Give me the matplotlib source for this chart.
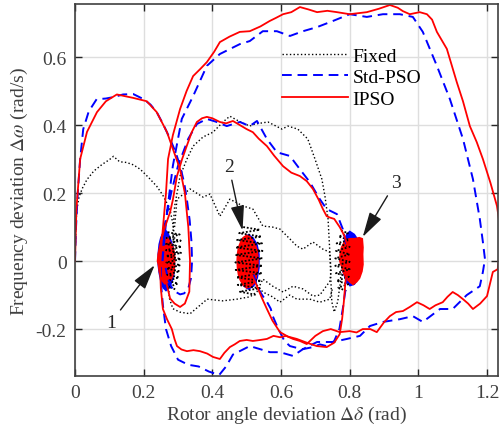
import matplotlib
matplotlib.use('Agg')
import matplotlib.pyplot as plt
import numpy as np

plt.rcParams['font.family'] = ['Liberation Serif', 'DejaVu Serif']
plt.rcParams['mathtext.fontset'] = 'stix'

# ---- trajectories: (delta, omega) pairs ----
# Fixed
fix_g1 = [(0, 0), (0.002, 0.08), (0.005, 0.15), (0.012, 0.19), (0.022, 0.215), (0.035, 0.24),
          (0.055, 0.265), (0.08, 0.285), (0.1, 0.298), (0.112, 0.308), (0.13, 0.292), (0.15, 0.29),
          (0.17, 0.283), (0.19, 0.27), (0.215, 0.245), (0.238, 0.22), (0.255, 0.195), (0.268, 0.17),
          (0.278, 0.145), (0.285, 0.11), (0.29, 0.07), (0.292, 0.02)]
fix_g2 = [(0.29, -0.03), (0.285, 0.08), (0.29, 0.16), (0.306, 0.25), (0.326, 0.3), (0.344, 0.338),
          (0.373, 0.365), (0.402, 0.379), (0.431, 0.409), (0.451, 0.426), (0.48, 0.41), (0.509, 0.397),
          (0.524, 0.403), (0.562, 0.409), (0.603, 0.388), (0.62, 0.397), (0.649, 0.388), (0.678, 0.359),
          (0.699, 0.3), (0.719, 0.241), (0.728, 0.191), (0.737, 0.124), (0.742, 0.03), (0.745, -0.05),
          (0.748, -0.12), (0.755, -0.15), (0.765, -0.12), (0.772, -0.07), (0.776, -0.02)]
fix_g3 = [(0.29, 0.1), (0.297, 0.182), (0.335, 0.212), (0.373, 0.188), (0.393, 0.197), (0.422, 0.132),
          (0.451, 0.182), (0.489, 0.162), (0.518, 0.153), (0.547, 0.103), (0.575, 0.1), (0.597, 0.094),
          (0.626, 0.065), (0.646, 0.044), (0.664, 0.035), (0.693, 0.056), (0.722, 0.035), (0.742, 0.026),
          (0.746, -0.03), (0.742, -0.06), (0.713, -0.1), (0.693, -0.103), (0.664, -0.082), (0.635, -0.074),
          (0.606, -0.091), (0.576, -0.074), (0.547, -0.053), (0.53, -0.09), (0.51, -0.105), (0.472, -0.112),
          (0.43, -0.117), (0.385, -0.112), (0.335, -0.155), (0.305, -0.15), (0.285, -0.14), (0.275, -0.11),
          (0.272, -0.07)]
fix_g4 = [(0.53, -0.07), (0.547, -0.091), (0.575, -0.105), (0.597, -0.121), (0.625, -0.1), (0.646, -0.112),
          (0.684, -0.112), (0.713, -0.121), (0.742, -0.112), (0.75, -0.08)]
fix_c1 = [(0.27, 0.085), (0.305, 0.078), (0.266, 0.068), (0.308, 0.06), (0.265, 0.05), (0.31, 0.042),
          (0.265, 0.032), (0.309, 0.024), (0.265, 0.015), (0.308, 0.006), (0.266, -0.004), (0.307, -0.012),
          (0.267, -0.022), (0.305, -0.03), (0.268, -0.04), (0.303, -0.048), (0.27, -0.058), (0.3, -0.066),
          (0.273, -0.076), (0.295, -0.084)]
fix_c2 = [(0.49, 0.1), (0.538, 0.092), (0.478, 0.082), (0.543, 0.072), (0.472, 0.062), (0.545, 0.052),
          (0.468, 0.04), (0.546, 0.03), (0.467, 0.018), (0.546, 0.008), (0.467, -0.004), (0.546, -0.014),
          (0.468, -0.026), (0.545, -0.036), (0.47, -0.048), (0.542, -0.058), (0.474, -0.07), (0.538, -0.08),
          (0.48, -0.09), (0.53, -0.1)]
fix_c3 = [(0.775, 0.09), (0.795, 0.082), (0.768, 0.072), (0.798, 0.062), (0.762, 0.052), (0.8, 0.042),
          (0.76, 0.03), (0.8, 0.02), (0.758, 0.008), (0.8, -0.002), (0.758, -0.014), (0.8, -0.024),
          (0.76, -0.036), (0.798, -0.046), (0.762, -0.058), (0.796, -0.068), (0.767, -0.078), (0.79, -0.088)]

# Std-PSO
std_g1 = [(0, 0), (0.003, 0.1), (0.008, 0.2), (0.015, 0.3), (0.024, 0.388), (0.04, 0.44), (0.063, 0.476),
          (0.09, 0.478), (0.111, 0.482), (0.14, 0.49), (0.17, 0.491), (0.2, 0.476), (0.22, 0.46),
          (0.238, 0.438), (0.258, 0.4), (0.277, 0.359), (0.293, 0.32), (0.306, 0.28), (0.318, 0.23),
          (0.326, 0.18), (0.334, 0.12), (0.339, 0.06), (0.341, 0.0), (0.338, -0.05), (0.33, -0.08),
          (0.318, -0.095), (0.306, -0.098), (0.292, -0.09), (0.28, -0.075), (0.27, -0.05), (0.264, -0.02)]
std_g3 = [(0.255, 0.0), (0.262, 0.08), (0.268, 0.144), (0.285, 0.28), (0.311, 0.418), (0.344, 0.485),
          (0.384, 0.574), (0.422, 0.609), (0.48, 0.638), (0.509, 0.647), (0.547, 0.676), (0.588, 0.676),
          (0.626, 0.662), (0.664, 0.676), (0.705, 0.688), (0.751, 0.706), (0.8, 0.726), (0.85, 0.718),
          (0.897, 0.726), (0.946, 0.726), (0.984, 0.718), (1.013, 0.674), (1.054, 0.574), (1.092, 0.476),
          (1.13, 0.359), (1.159, 0.241), (1.179, 0.124), (1.188, 0.056), (1.194, 0.006), (1.188, -0.032),
          (1.179, -0.074), (1.141, -0.1), (1.1, -0.141), (1.063, -0.141), (1.013, -0.179), (0.984, -0.162),
          (0.946, -0.171), (0.897, -0.179), (0.859, -0.191), (0.83, -0.22), (0.792, -0.229), (0.751, -0.238),
          (0.705, -0.238), (0.664, -0.259), (0.635, -0.279), (0.597, -0.268), (0.568, -0.268), (0.539, -0.259),
          (0.509, -0.25), (0.46, -0.275), (0.44, -0.31), (0.42, -0.335), (0.39, -0.325), (0.36, -0.31),
          (0.33, -0.305), (0.3, -0.29), (0.28, -0.25), (0.265, -0.2), (0.256, -0.13), (0.25, -0.06),
          (0.25, 0.0), (0.26, 0.1), (0.28, 0.2), (0.3, 0.28), (0.33, 0.36), (0.355, 0.403), (0.384, 0.418),
          (0.41, 0.41), (0.442, 0.397), (0.48, 0.409), (0.509, 0.397), (0.53, 0.412), (0.559, 0.359),
          (0.588, 0.32), (0.626, 0.309), (0.655, 0.27), (0.684, 0.232), (0.713, 0.182), (0.733, 0.153),
          (0.763, 0.138), (0.78, 0.094), (0.79, 0.05)]
std_g2 = [(0.52, -0.04), (0.53, -0.074), (0.545, -0.1), (0.559, -0.12), (0.57, -0.14), (0.576, -0.162),
          (0.588, -0.19), (0.597, -0.209), (0.61, -0.235), (0.626, -0.25), (0.645, -0.255), (0.664, -0.259),
          (0.693, -0.253), (0.713, -0.245), (0.733, -0.25), (0.755, -0.235), (0.77, -0.2), (0.78, -0.14),
          (0.787, -0.09), (0.79, -0.05)]
std_c1 = [(0.262, 0.095), (0.272, 0.085), (0.28, 0.065), (0.287, 0.045), (0.29, 0.02), (0.292, -0.01),
          (0.29, -0.04), (0.285, -0.06), (0.276, -0.08), (0.265, -0.09), (0.255, -0.08), (0.248, -0.06),
          (0.243, -0.035), (0.24, -0.01), (0.24, 0.02), (0.243, 0.05), (0.248, 0.07), (0.255, 0.085)]
std_c2 = [(0.505, 0.08), (0.52, 0.07), (0.532, 0.05), (0.538, 0.02), (0.538, -0.02), (0.533, -0.05),
          (0.522, -0.075), (0.505, -0.085), (0.49, -0.075), (0.48, -0.055), (0.475, -0.02), (0.475, 0.02),
          (0.48, 0.05), (0.49, 0.07)]
std_c3 = [(0.8, 0.09), (0.815, 0.08), (0.828, 0.06), (0.834, 0.03), (0.834, -0.02), (0.828, -0.05),
          (0.815, -0.07), (0.8, -0.075), (0.788, -0.06), (0.778, -0.03), (0.775, 0.0), (0.777, 0.03),
          (0.783, 0.06), (0.79, 0.08)]

# IPSO
ipso_g1 = [(0, 0), (0.004, 0.15), (0.015, 0.3), (0.035, 0.38), (0.064, 0.438), (0.09, 0.47), (0.122, 0.49),
           (0.145, 0.485), (0.169, 0.48), (0.209, 0.47), (0.238, 0.438), (0.268, 0.379), (0.285, 0.33),
           (0.306, 0.27), (0.32, 0.2), (0.33, 0.1), (0.335, 0.0), (0.333, -0.09), (0.32, -0.125),
           (0.306, -0.135), (0.29, -0.125), (0.277, -0.11), (0.265, -0.06)]
ipso_g3 = [(0.248, -0.02), (0.252, 0.05), (0.258, 0.12), (0.265, 0.2), (0.271, 0.3), (0.285, 0.37),
           (0.306, 0.447), (0.325, 0.5), (0.344, 0.544), (0.365, 0.565), (0.384, 0.585), (0.405, 0.615),
           (0.422, 0.644), (0.45, 0.66), (0.48, 0.674), (0.509, 0.676), (0.54, 0.69), (0.567, 0.706),
           (0.585, 0.715), (0.606, 0.726), (0.63, 0.732), (0.655, 0.747), (0.68, 0.74), (0.705, 0.732),
           (0.735, 0.736), (0.763, 0.732), (0.8, 0.726), (0.825, 0.729), (0.85, 0.732), (0.885, 0.742),
           (0.917, 0.753), (0.94, 0.745), (0.955, 0.735), (0.975, 0.726), (1.004, 0.732), (1.025, 0.726),
           (1.04, 0.71), (1.054, 0.674), (1.083, 0.624), (1.112, 0.526), (1.13, 0.47), (1.15, 0.397),
           (1.17, 0.35), (1.188, 0.3), (1.21, 0.23), (1.229, 0.162), (1.238, 0.1), (1.238, 0.03),
           (1.231, -0.024), (1.217, -0.032), (1.2, -0.103), (1.18, -0.125), (1.159, -0.141), (1.145, -0.125),
           (1.13, -0.112), (1.115, -0.1), (1.1, -0.091), (1.085, -0.105), (1.071, -0.121), (1.05, -0.13),
           (1.033, -0.141), (1.015, -0.13), (0.996, -0.121), (0.975, -0.135), (0.955, -0.147), (0.935, -0.15),
           (0.917, -0.162), (0.9, -0.18), (0.879, -0.209), (0.86, -0.2), (0.838, -0.2), (0.82, -0.21),
           (0.8, -0.206), (0.771, -0.209), (0.745, -0.2), (0.722, -0.206), (0.7, -0.22), (0.675, -0.244),
           (0.655, -0.235), (0.635, -0.229), (0.615, -0.22), (0.597, -0.224), (0.578, -0.22), (0.559, -0.229),
           (0.54, -0.232), (0.518, -0.235), (0.5, -0.232), (0.48, -0.235), (0.465, -0.245), (0.451, -0.253),
           (0.435, -0.27), (0.422, -0.288), (0.402, -0.282), (0.385, -0.272), (0.364, -0.265), (0.345, -0.262),
           (0.326, -0.265), (0.31, -0.26), (0.297, -0.25), (0.29, -0.23), (0.282, -0.2), (0.268, -0.171),
           (0.256, -0.141), (0.25, -0.08), (0.247, 0.0), (0.25, 0.06), (0.262, 0.1), (0.277, 0.144),
           (0.285, 0.18), (0.297, 0.25), (0.312, 0.3), (0.326, 0.34), (0.34, 0.379), (0.355, 0.409),
           (0.37, 0.42), (0.384, 0.424), (0.4, 0.42), (0.422, 0.409), (0.44, 0.405), (0.46, 0.412),
           (0.48, 0.4), (0.5, 0.388), (0.518, 0.379), (0.535, 0.36), (0.559, 0.338), (0.58, 0.31),
           (0.606, 0.279), (0.63, 0.26), (0.655, 0.25), (0.675, 0.235), (0.693, 0.212), (0.71, 0.18),
           (0.722, 0.153), (0.733, 0.132), (0.742, 0.128), (0.755, 0.124), (0.771, 0.1), (0.785, 0.074),
           (0.792, 0.05), (0.797, 0.03)]
ipso_g2 = [(0.515, -0.04), (0.53, -0.074), (0.545, -0.11), (0.559, -0.141), (0.575, -0.175), (0.597, -0.209),
           (0.62, -0.222), (0.646, -0.229), (0.675, -0.24), (0.704, -0.25), (0.733, -0.253), (0.755, -0.24),
           (0.771, -0.215), (0.778, -0.17), (0.783, -0.12), (0.787, -0.07), (0.79, -0.04)]
ipso_c1 = [(0.262, 0.07), (0.27, 0.066), (0.276, 0.055), (0.283, 0.045), (0.287, 0.03), (0.29, 0.012),
           (0.289, -0.01), (0.288, -0.03), (0.283, -0.045), (0.278, -0.055), (0.27, -0.062), (0.262, -0.066),
           (0.255, -0.058), (0.25, -0.045), (0.246, -0.03), (0.244, -0.012), (0.241, 0.0), (0.243, 0.02),
           (0.246, 0.035), (0.25, 0.05), (0.256, 0.062)]
ipso_c2 = [(0.5, 0.075), (0.51, 0.07), (0.518, 0.058), (0.525, 0.045), (0.53, 0.03), (0.532, 0.01),
           (0.532, -0.01), (0.53, -0.03), (0.526, -0.05), (0.52, -0.065), (0.51, -0.075), (0.5, -0.078),
           (0.49, -0.07), (0.482, -0.055), (0.477, -0.04), (0.474, -0.02), (0.473, 0.0), (0.474, 0.02),
           (0.477, 0.04), (0.483, 0.055), (0.49, 0.068)]
ipso_c3 = [(0.8, 0.065), (0.815, 0.065), (0.828, 0.068), (0.836, 0.065), (0.838, 0.04), (0.837, 0.02),
           (0.838, -0.01), (0.835, -0.03), (0.828, -0.05), (0.82, -0.06), (0.81, -0.068), (0.8, -0.06),
           (0.79, -0.05), (0.783, -0.035), (0.777, -0.015), (0.772, 0.0), (0.773, 0.02), (0.777, 0.04),
           (0.785, 0.055), (0.792, 0.062)]

# arrows pointing at the three equilibrium clusters
arrow_labels = ['1', '2', '3']
arrow_tips = [(0.232, -0.012), (0.488, 0.09), (0.838, 0.071)]
arrow_text = [(0.105, -0.18), (0.448, 0.279), (0.934, 0.232)]

xticks = [0, 0.2, 0.4, 0.6, 0.8, 1, 1.2]
yticks = [-0.2, 0, 0.2, 0.4, 0.6]

RED = '#ff0000'
BLUE = '#0000ff'


def xy(pts):
    a = np.array(pts)
    return a[:, 0], a[:, 1]


fig = plt.figure(figsize=(5.0, 4.31), dpi=100)
ax = fig.add_axes([0.15, 0.1253, 0.846, 0.8631])

# Fixed
for seg in [fix_g1, fix_g2, fix_g3, fix_g4]:
    x, y = xy(seg)
    ax.plot(x, y, color='k', ls=':', lw=1.0)
for seg in [fix_c1, fix_c2, fix_c3]:
    x, y = xy(seg)
    ax.plot(x, y, color='k', ls=(0, (1, 1)), lw=1.3)

# Std-PSO
for seg in [std_c1, std_c2, std_c3]:
    x, y = xy(seg)
    ax.fill(x, y, color=BLUE, lw=0)
for seg in [std_g1, std_g3, std_g2]:
    x, y = xy(seg)
    ax.plot(x, y, color=BLUE, ls=(0, (5, 3)), lw=1.4)

# IPSO
for seg in [ipso_g1, ipso_g3, ipso_g2]:
    x, y = xy(seg)
    ax.plot(x, y, color=RED, lw=1.3)
for seg in [ipso_c1, ipso_c2, ipso_c3]:
    x, y = xy(seg)
    ax.fill(x, y, color=RED, lw=1.5, edgecolor=RED)

# legend proxies
ax.plot([], [], color='k', ls=':', lw=1.0, label='Fixed')
ax.plot([], [], color=BLUE, ls=(0, (5, 3)), lw=1.4, label='Std-PSO')
ax.plot([], [], color=RED, lw=1.3, label='IPSO')
handles, labels = ax.get_legend_handles_labels()
ax.legend(handles[-3:], labels[-3:], loc='upper left', bbox_to_anchor=(0.47, 0.905),
          frameon=False, fontsize=14, handlelength=3.4, handletextpad=0.25, labelspacing=0.2,
          borderaxespad=0)

for lab, tip, txt in zip(arrow_labels, arrow_tips, arrow_text):
    ax.annotate(lab, xy=tip, xytext=txt, fontsize=14, color='#262626', ha='center', va='center',
                arrowprops=dict(arrowstyle='-|>,head_length=1.1,head_width=0.3', color='#1a1a1a',
                                lw=1.0, shrinkA=2, shrinkB=0, mutation_scale=14))

ax.set_xlim(0, 1.232)
ax.set_ylim(-0.338, 0.756)
ax.set_xticks(xticks)
ax.set_xticklabels(['0', '0.2', '0.4', '0.6', '0.8', '1', '1.2'])
ax.set_yticks(yticks)
ax.set_yticklabels(['-0.2', '0', '0.2', '0.4', '0.6'])
ax.grid(True, color='#dedede', lw=1.0)
ax.set_axisbelow(True)
ax.tick_params(direction='in', top=True, right=True, length=5, width=1.0, labelsize=14,
               colors='#262626', labelcolor='#404040', pad=6)
for sp in ax.spines.values():
    sp.set_color('#404040')
    sp.set_linewidth(1.2)
ax.set_xlabel(r'Rotor angle deviation $\Delta\delta$ (rad)', fontsize=14, color='#404040', labelpad=2)
ax.set_ylabel(r'Frequency deviation $\Delta\omega$ (rad/s)', fontsize=14, color='#404040', labelpad=4)

fig.savefig('out.png', dpi=100)
